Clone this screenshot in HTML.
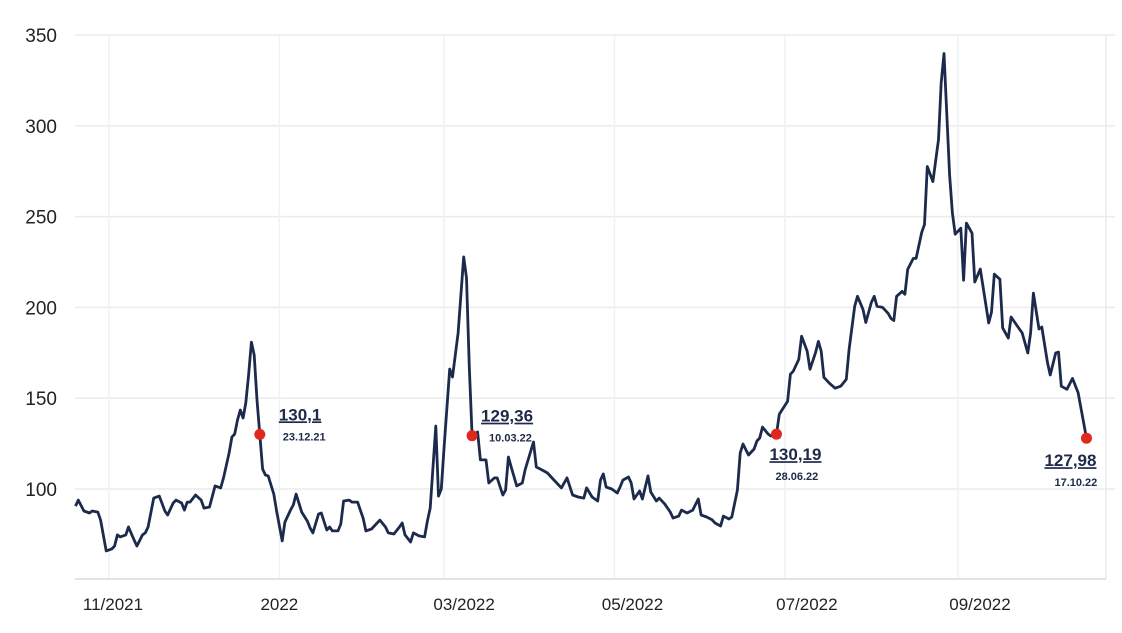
<!DOCTYPE html>
<html><head><meta charset="utf-8"><style>
html,body{margin:0;padding:0;background:#fff;}
svg{display:block;font-family:"Liberation Sans",sans-serif;}
</style></head><body>
<svg id="chart" width="1122" height="633" viewBox="0 0 1122 633"></svg>
<script>
const startDate = "2021-10-20";
const dayOffsets = [0,1,3,5,6,8,9,11,13,14,15,16,18,19,21,22,24,25,26,28,30,32,33,35,36,38,39,40,41,43,45,46,48,50,52,53,55,56,57,58,59,60,61,62,63,64,65,66,67,68,69,71,72,74,75,77,78,79,81,83,84,85,87,88,90,91,92,94,95,96,98,99,101,103,104,106,109,111,112,114,116,117,118,120,121,123,125,126,127,129,130,131,132,134,135,137,139,140,141,142,144,145,147,148,150,151,153,154,155,156,158,160,161,164,165,167,169,171,174,176,178,180,182,183,185,187,188,189,190,192,194,195,196,198,199,200,202,203,205,206,208,209,211,213,214,216,217,219,221,223,224,226,228,229,231,232,234,235,237,238,239,241,243,244,245,246,248,249,251,252,255,256,257,259,260,262,263,265,266,267,268,270,272,274,276,277,279,280,282,283,285,286,287,289,291,292,293,294,296,297,298,300,301,303,304,305,307,309,310,311,313,314,315,317,318,319,321,322,324,327,328,329,331,332,334,335,337,339,341,342,343,345,346,348,349,351,352,353,355,357,359,362];
const prices = [90.6,93.9,87.9,86.8,87.9,87.3,82.9,65.9,67.0,68.6,74.7,73.6,74.7,79.1,71.9,68.6,74.7,75.8,79.1,95.0,96.1,87.9,85.7,92.3,93.9,92.3,88.4,92.8,92.8,96.7,93.9,89.5,90.1,101.7,100.6,106.1,119.8,128.6,130.3,138.0,143.5,139.1,147.4,162.8,180.9,173.8,149.0,130.1,111.0,107.7,107.2,97.2,87.9,71.4,81.8,88.4,91.2,97.2,87.3,82.4,78.5,75.8,86.2,86.8,77.4,79.1,76.9,76.9,80.7,93.4,93.9,92.8,92.8,84.0,76.9,78.0,82.9,79.1,75.8,75.2,79.1,81.3,74.7,70.8,75.8,74.2,73.6,82.4,89.5,134.7,96.1,100.0,123.1,166.1,161.7,185.9,227.8,216.2,167.2,129.36,131.4,116.0,116.0,103.3,106.1,106.1,96.7,99.4,117.6,112.1,101.7,103.3,110.5,125.9,112.1,110.5,108.8,105.5,100.6,106.1,96.7,95.6,95.0,100.6,95.6,93.4,104.9,108.3,101.1,100.0,97.8,101.1,104.9,106.6,103.3,94.5,98.9,94.5,107.2,98.3,93.4,95.0,91.7,87.3,84.0,85.1,88.4,86.8,88.4,94.5,85.7,84.6,83.0,81.3,79.6,85.1,83.5,84.6,99.4,119.8,124.8,118.7,122.0,126.4,128.1,134.1,130.3,129.2,130.19,141.2,148.3,163.2,164.8,171.4,184.1,175.8,165.9,175.2,181.3,175.8,161.5,158.2,155.5,156.6,160.4,176.9,200.6,206.1,198.9,191.7,202.8,206.1,200.6,200.0,196.7,193.9,192.8,206.1,208.8,207.2,220.9,227.0,227.0,241.3,245.7,277.6,269.3,292.4,323.8,339.8,272.9,251.9,240.3,243.6,215.0,246.4,240.9,214.0,221.1,191.4,197.4,218.3,215.5,188.6,183.1,194.7,190.3,185.9,174.9,185.9,207.9,188.1,189.2,169.9,162.8,174.9,175.4,156.6,154.9,160.9,153.1,127.98];
const yTicks = [100,150,200,250,300,350];
const xTickDates = ["2021-11-01","2022-01-01","2022-03-01","2022-05-01","2022-07-01","2022-09-01"];
const xTickLabels = ["11/2021","2022","03/2022","05/2022","07/2022","09/2022"];
const markerIdx = [47,99,168,241];
const markerValueLabels = ["130,1","129,36","130,19","127,98"];
const markerDateLabels = ["23.12.21","10.03.22","28.06.22","17.10.22"];

const NS="http://www.w3.org/2000/svg";
const svg=document.getElementById('chart');
const DAY=86400000;
const x0=Date.parse("2021-11-01"), x1=Date.parse("2022-09-01");
function xT(t){return 109+(t-x0)/(x1-x0)*(958-109);}
function xD(d){return xT(Date.parse(startDate)+d*DAY);}
function y(v){return 489-(v-100)*1.816;}
function mk(tag,attrs,parent){const e=document.createElementNS(NS,tag);for(const k in attrs)e.setAttribute(k,attrs[k]);(parent||svg).appendChild(e);return e;}

yTicks.forEach((v,i)=>{
  const l=mk('line',{x1:75,x2:1115,y1:y(v),y2:y(v),stroke:'#ebebeb','stroke-width':1.5});
  
  
  const t=mk('text',{x:57,y:y(v)+7,'text-anchor':'end','font-size':19,fill:'#222'});
  t.textContent=v;
  
  
});
const labelShift=[4,0,20,18,22,22];
xTickDates.forEach((d,i)=>{
  const xx=xT(Date.parse(d));
  const l=mk('line',{x1:xx,x2:xx,y1:35,y2:579,stroke:'#eef3f5','stroke-width':1.5});
  
  
  const t=mk('text',{x:xx+labelShift[i],y:610,'text-anchor':'middle','font-size':17,fill:'#222'});
  t.textContent=xTickLabels[i];
  
  
});
const rb=mk('line',{x1:1106,x2:1106,y1:35,y2:579,stroke:'#ebebeb','stroke-width':1.5});


const ax=mk('line',{x1:75,x2:1106,y1:579,y2:579,stroke:'#e3e3e3','stroke-width':2});



const pts=prices.map((v,i)=>xD(dayOffsets[i]).toFixed(1)+','+y(v).toFixed(1)).join(' ');
const pl=mk('polyline',{points:pts,fill:'none',stroke:'#1c2a4c','stroke-width':2.8,'stroke-linejoin':'round'});



const offs=[[19,-14,23,6],[9,-14,17,6],[-7,26,-1,46],[-42,28,-32,48]];
markerIdx.forEach((idx,i)=>{
  const cx=xD(dayOffsets[idx]), cy=y(prices[idx]);
  const c=mk('circle',{cx:cx,cy:cy,r:5.5,fill:'#e0281c'});
  
  
  const o=offs[i];
  const t=mk('text',{x:cx+o[0],y:cy+o[1],'font-size':17,'font-weight':'bold',fill:'#1f2a4a','text-decoration':'underline'});
  t.textContent=markerValueLabels[i];
  
  
  const d=mk('text',{x:cx+o[2],y:cy+o[3],'font-size':11,'font-weight':'bold',fill:'#1f2a4a'});
  d.textContent=markerDateLabels[i];
  
  
});
</script>
</body></html>
